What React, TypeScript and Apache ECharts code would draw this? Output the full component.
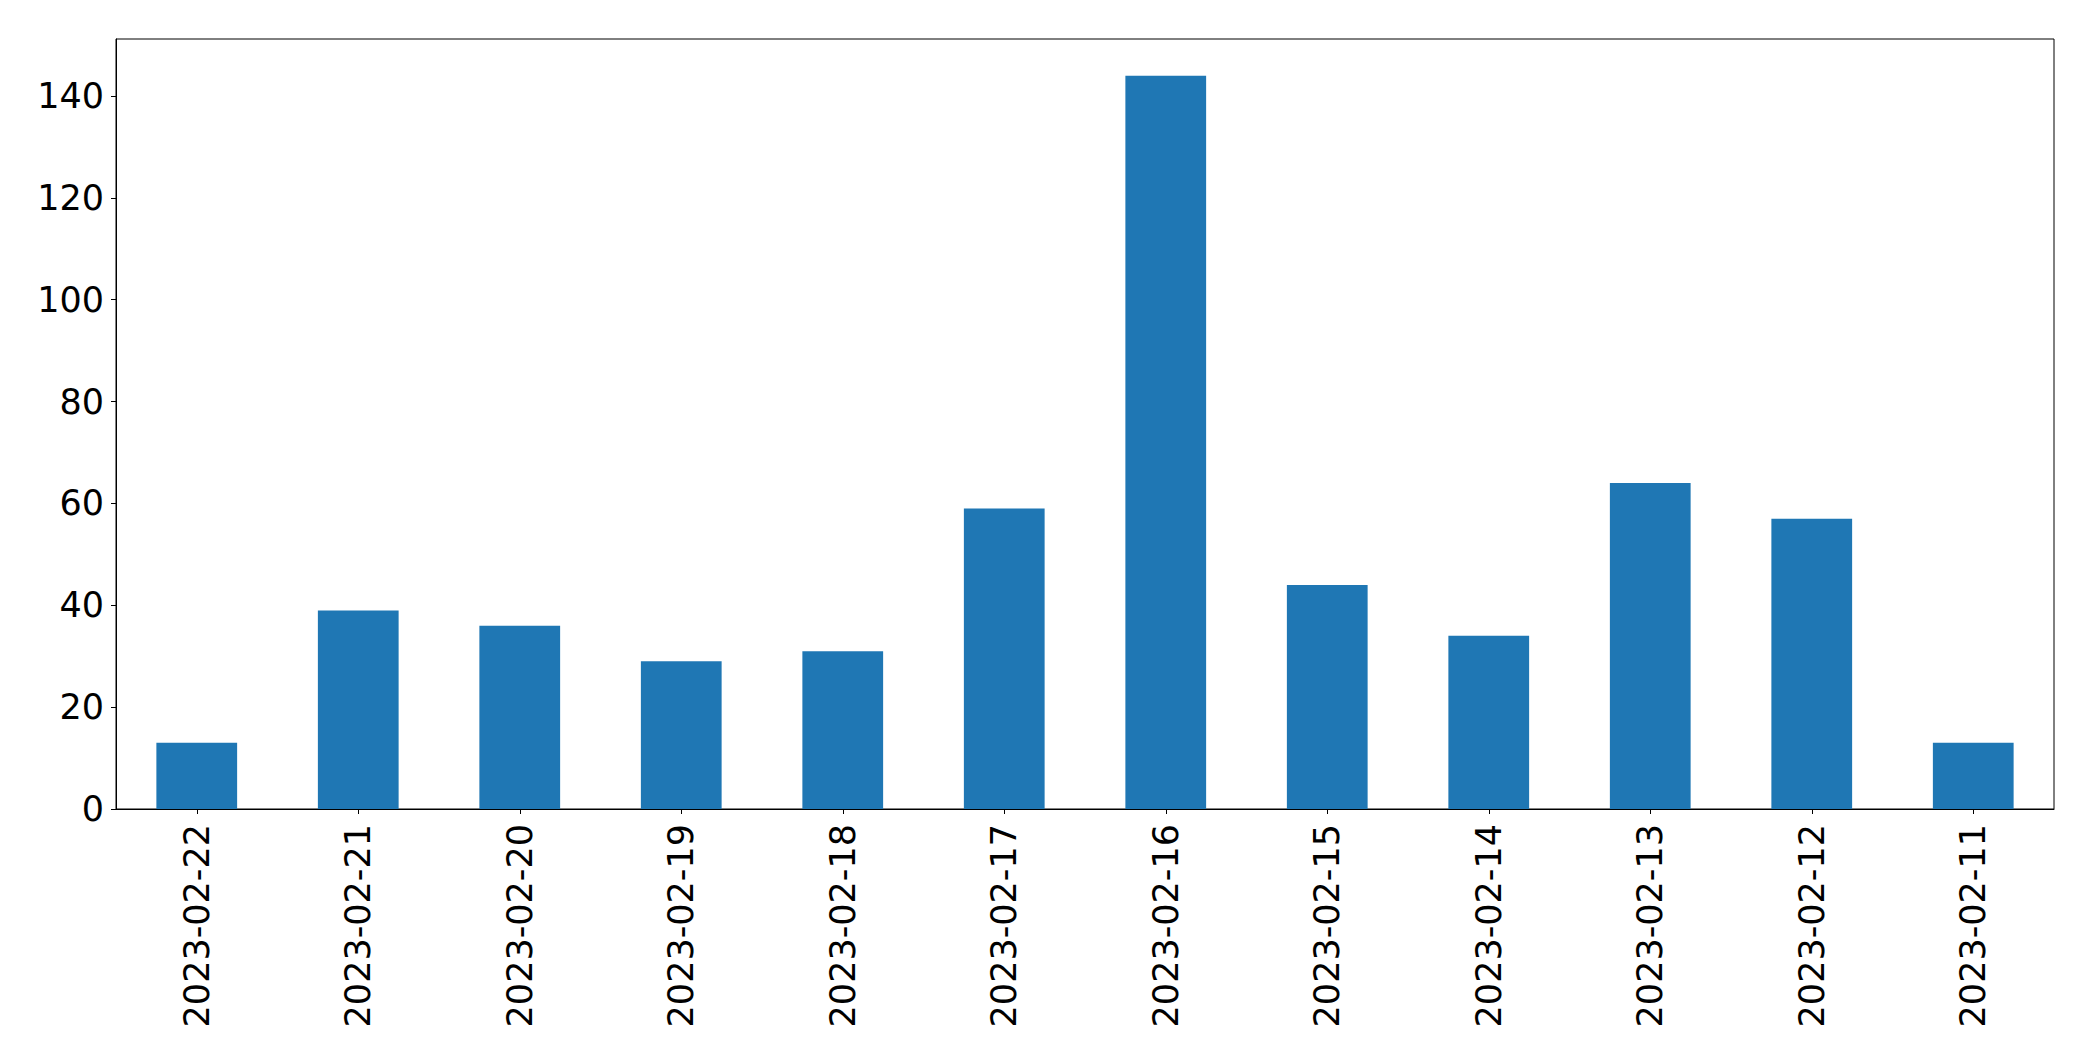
import React, { useEffect, useRef } from "react";
import * as echarts from "echarts";

const categories = [
  "2023-02-22", "2023-02-21", "2023-02-20", "2023-02-19", "2023-02-18", "2023-02-17",
  "2023-02-16", "2023-02-15", "2023-02-14", "2023-02-13", "2023-02-12", "2023-02-11",
];
const counts = [13, 39, 36, 29, 31, 59, 144, 44, 34, 64, 57, 13];
const yTicks = [0, 20, 40, 60, 80, 100, 120, 140];

export default function App() {
  const ref = useRef<HTMLDivElement>(null);
  useEffect(() => {
    if (!ref.current) return;
    const chart = echarts.init(ref.current, null, { renderer: "svg" });
    const font = "DejaVu Sans";
    chart.setOption({
      animation: false,
      backgroundColor: "#ffffff",
      grid: {
        left: 116,
        top: 39,
        right: 39,
        bottom: 252,
        show: true,
        borderColor: "#000000",
        borderWidth: 1,
        containLabel: false,
      },
      xAxis: {
        type: "category",
        data: categories,
        boundaryGap: true,
        axisLine: { show: true, lineStyle: { color: "#000000", width: 1 } },
        axisTick: { show: true, alignWithLabel: true, length: 5, lineStyle: { color: "#000000" } },
        axisLabel: {
          rotate: 90,
          margin: 15,
          color: "#000000",
          fontFamily: font,
          fontSize: 35,
          interval: 0,
        },
        splitLine: { show: false },
      },
      yAxis: {
        type: "value",
        min: 0,
        max: 151.2,
        interval: 20,
        axisLine: { show: true, lineStyle: { color: "#000000", width: 1 } },
        axisTick: { show: true, length: 5, lineStyle: { color: "#000000" } },
        axisLabel: {
          margin: 12,
          color: "#000000",
          fontFamily: font,
          fontSize: 35,
          showMaxLabel: false,
          formatter: (v: number) => (yTicks.includes(v) ? String(v) : ""),
        },
        splitLine: { show: false },
      },
      series: [
        {
          type: "bar",
          data: counts,
          barWidth: "50%",
          itemStyle: { color: "#1f77b4" },
        },
      ],
    });
    return () => chart.dispose();
  }, []);
  return (
    <div
      ref={ref}
      style={{ position: "fixed", left: 0, top: 0, width: 2093, height: 1061, background: "#fff" }}
    />
  );
}
